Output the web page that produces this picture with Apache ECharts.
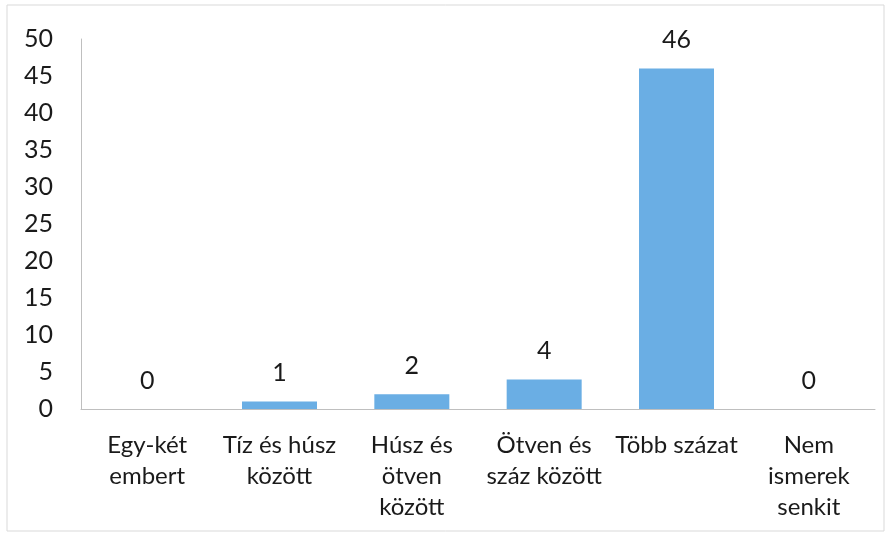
<!DOCTYPE html>
<html>
<head>
<meta charset="utf-8">
<script src="https://cdn.jsdelivr.net/npm/echarts@6/dist/echarts.min.js"></script>
<style>
html,body{margin:0;padding:0;background:#fff;}
#container{width:890px;height:538px;}
</style>
</head>
<body>
<div id="container"></div>
<script>
// kategóriák és értékek
var categories = ['Egy-két\nembert', 'Tíz és húsz\nközött', 'Húsz és\nötven\nközött', 'Ötven és\nszáz között', 'Több százat', 'Nem\nismerek\nsenkit'];
var values = [0, 1, 2, 4, 46, 0];
var yMax = 50;
var yStep = 5;

var myChart = echarts.init(document.getElementById('container'));
var option = {
	backgroundColor: '#fff',
	textStyle: { fontFamily: 'Lato' },
	graphic: [{
		type: 'rect',
		shape: { x: 7, y: 5, width: 877, height: 526 },
		style: { fill: 'none', stroke: '#d9d9d9', lineWidth: 1 }
	}],
	grid: { left: 81, right: 15, top: 39, bottom: 129 },
	xAxis: {
		type: 'category',
		data: categories,
		axisLine: { lineStyle: { color: '#bfbfbf', width: 1 } },
		axisTick: { show: false },
		axisLabel: {
			interval: 0,
			color: '#1a1a1a',
			fontSize: 24,
			lineHeight: 31,
			margin: 21,
			verticalAlign: 'top'
		}
	},
	yAxis: {
		type: 'value',
		min: 0,
		max: yMax,
		interval: yStep,
		splitLine: { show: false },
		axisLine: { show: true, lineStyle: { color: '#bfbfbf', width: 1 } },
		axisTick: { show: false },
		axisLabel: { color: '#1a1a1a', fontSize: 25, margin: 28 }
	},
	series: [{
		type: 'bar',
		data: values,
		barWidth: 75,
		itemStyle: { color: '#6aaee4' },
		label: {
			show: true,
			position: 'top',
			distance: 16,
			color: '#1a1a1a',
			fontSize: 25
		}
	}]
};
myChart.setOption(option);
</script>
</body>
</html>
